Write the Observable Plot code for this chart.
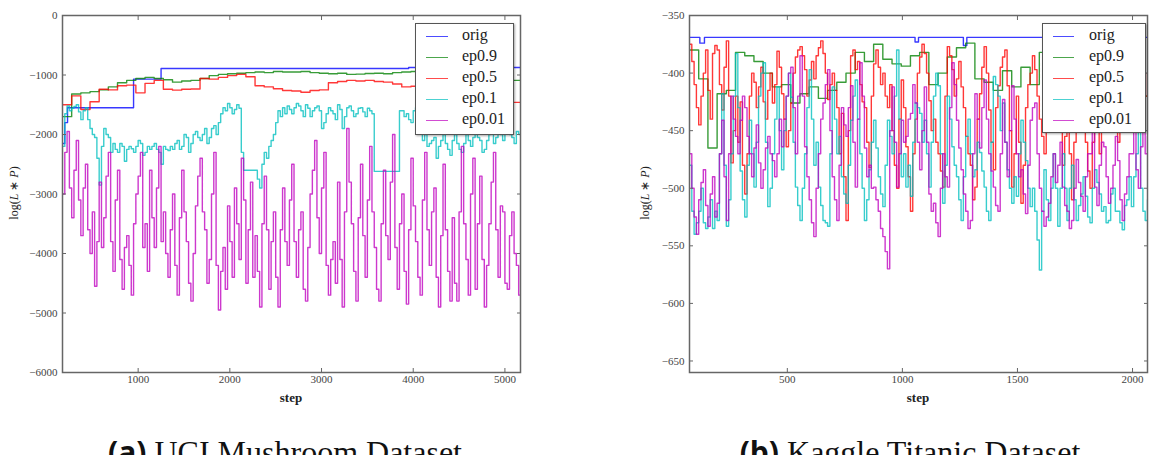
<!DOCTYPE html>
<html><head><meta charset="utf-8">
<script src="https://cdn.jsdelivr.net/npm/d3@7"></script>
<script src="https://cdn.jsdelivr.net/npm/@observablehq/plot@0.6"></script>
<style>
html,body{margin:0;padding:0;background:#fff;overflow:hidden;}
#root{position:relative;width:1162px;height:455px;overflow:hidden;}
.panel{position:absolute;top:0;}
.legend{position:absolute;background:#fff;border:1px solid #555;box-shadow:1px 1px 2px rgba(0,0,0,.35);font-family:"Liberation Serif",serif;font-size:16px;color:#222;}
.legend .sw{position:absolute;height:0;border-top:1.5px solid;}
.legend .lb{position:absolute;line-height:16px;white-space:nowrap;}
.ylab{position:absolute;transform:translate(-50%,-50%) rotate(-90deg);font-family:"Liberation Serif",serif;font-size:12px;color:#222;white-space:nowrap;}
.xlab{position:absolute;transform:translate(-50%,-50%);font-family:"Liberation Serif",serif;font-size:13px;font-weight:bold;color:#222;}
.cap{position:absolute;top:436px;transform:translateX(-50%);font-family:"Liberation Serif",serif;font-size:32px;line-height:32px;white-space:nowrap;color:#111;}
.cap b{font-family:"Open Sans",sans-serif;font-weight:700;font-size:30px;}
</style></head>
<body><div id="root"></div>
<script>
// ---------- data ----------
const seriesNames = ["orig", "ep0.9", "ep0.5", "ep0.1", "ep0.01"];
const seriesColors = ["#0000ff", "#008000", "#ff0000", "#00bfbf", "#bf00bf"];

// (a) UCI Mushroom
const xTicksL = [1000, 2000, 3000, 4000, 5000];
const yTicksL = [0, -1000, -2000, -3000, -4000, -5000, -6000];
const stepsL25 = d3.range(175, 5176, 25);
const stepsL100 = d3.range(175, 5176, 100);
const origStepsL = [175, 200, 230, 950, 1250, 3950, 5175];
const origL = [-2150, -1800, -1550, -1070, -890, -875, -875];
const ep09L = [-1700,-1320,-1300,-1280,-1250,-1200,-1130,-1090,-1060,-1040,-1060,-1080,-1120,-1100,-1090,-1060,-1010,-990,-980,-970,-960,-950,-960,-940,-950,-950,-940,-960,-970,-980,-970,-990,-985,-975,-970,-980,-960,-950,-940,-960,-950,-970,-960,-950,-980,-970,-990,-1000,-1050,-1090,-1100];
const ep05L = [-1500,-1350,-1580,-1450,-1240,-1250,-1180,-1170,-1300,-1140,-1090,-1240,-1255,-1240,-1235,-1060,-1070,-1040,-1010,-990,-1030,-1180,-1200,-1230,-1260,-1270,-1290,-1260,-1250,-1130,-1110,-1090,-1100,-1090,-1110,-1120,-1150,-1200,-1190,-1180,-1170,-1190,-1200,-1210,-1220,-1200,-1230,-1300,-1450,-1460,-1460];
const ep01L = [
  -2200,-1650,-1520,-1600,-1560,-1530,-1500,-1620,-1750,-1600,-1550,-1750,-1900,-2000,-2050,-2400,-2850,-2200,-1900,-2000,
  -2050,-2300,-2150,-2250,-2300,-2150,-2200,-2450,-2250,-2200,-2240,-2300,-2200,-2100,-2150,-2350,-2300,-2200,-2250,-2200,
  -2150,-2250,-2300,-2500,-2200,-2250,-2270,-2200,-2250,-2150,-2100,-2250,-2200,-2000,-2050,-2300,-2150,-2000,-1950,-2050,
  -2100,-2000,-1900,-2150,-2050,-1900,-1850,-2000,-1800,-1650,-1550,-1600,-1480,-1550,-1650,-1580,-1500,-1560,-2300,-2600,
  -2600,-2600,-2600,-2600,-2600,-2750,-2900,-2500,-2300,-2400,-2200,-2100,-2000,-1800,-1600,-1700,-1550,-1650,-1520,-1580,
  -1650,-1550,-1480,-1520,-1600,-1700,-1500,-1560,-1700,-1600,-1550,-1520,-1600,-1900,-1800,-1650,-1550,-1600,-1650,-1750,
  -1500,-1580,-1900,-1700,-1550,-1520,-1600,-1700,-1650,-1560,-1550,-1620,-1700,-1560,-1600,-1650,-2620,-2620,-2620,-2620,
  -2620,-2620,-2620,-2620,-2620,-2620,-2620,-1600,-1600,-1700,-1650,-1750,-1800,-1600,-1550,-1700,-1900,-2100,-2000,-2200,
  -2150,-2100,-2050,-2400,-2200,-2100,-2000,-2150,-2250,-2350,-2100,-2000,-2150,-2250,-2300,-2150,-2000,-2100,-2200,-2050,
  -1950,-2050,-2100,-2300,-2250,-2100,-2000,-1900,-2150,-2050,-1950,-2000,-2100,-1850,-1900,-2000,-2050,-2150,-1950,-2000,
  -2000];
const ep001L = [
  -3000,-2300,-1950,-2900,-3400,-2600,-2100,-3100,-3700,-2900,-2500,-3600,-4000,-3300,-4550,-3800,-2800,-3900,-3400,-2700,
  -2300,-3800,-4300,-3100,-2600,-4100,-4600,-3900,-3700,-4200,-4700,-3500,-3000,-2700,-2300,-3900,-3500,-4300,-2600,-3400,
  -3900,-2900,-2200,-3800,-3300,-4000,-4400,-3600,-3000,-4200,-4700,-3400,-2600,-3300,-3800,-4500,-4800,-4000,-3200,-2700,
  -2400,-3300,-3600,-4500,-4100,-3000,-2300,-4200,-4950,-4300,-3900,-4600,-3200,-3800,-4400,-2900,-3500,-4100,-2400,-3100,
  -4500,-3600,-2800,-4400,-3700,-4300,-4900,-3500,-2700,-3600,-4600,-3800,-3300,-4400,-4900,-3600,-2900,-3800,-4200,-3100,
  -2500,-3800,-4400,-3600,-3300,-4600,-4800,-3900,-3000,-2600,-2100,-3400,-4000,-2900,-2300,-4200,-4700,-4100,-3800,-4500,
  -2800,-4100,-4900,-3300,-1900,-2800,-3500,-4300,-4800,-3400,-2500,-3700,-4400,-3100,-2200,-3300,-3900,-4600,-4800,-3500,
  -2600,-3700,-4100,-2800,-2000,-3900,-4600,-3500,-3000,-4300,-4850,-3600,-2400,-3200,-3800,-4400,-4700,-3100,-2300,-3600,
  -4200,-3300,-2900,-4400,-4900,-3700,-2500,-3600,-4300,-4800,-3400,-4500,-4800,-3300,-2200,-3500,-4100,-4700,-3000,-2400,
  -4600,-3500,-2700,-4100,-4900,-4200,-3500,-2800,-2300,-3600,-4400,-3200,-3300,-4500,-4600,-3700,-3300,-4000,-4200,-4700,
  -3800];

// (b) Kaggle Titanic
const xTicksR = [500, 1000, 1500, 2000];
const yTicksR = [-350, -400, -450, -500, -550, -600, -650];
const stepsR10 = d3.range(75, 2076, 10);
const stepsR40 = d3.range(75, 2076, 40);
const origStepsR = [75, 100, 120, 140, 1040, 1055, 1070, 1250, 1265, 1280, 2075];
const origR = [-369, -369, -374, -369, -369, -373, -369, -369, -376, -369, -369];
const ep09R = [-380,-405,-465,-418,-415,-382,-385,-390,-400,-412,
  -410,-426,-418,-412,-422,-415,-408,-400,-382,-390,
  -375,-388,-392,-394,-385,-382,-410,-400,-386,-378,
  -374,-405,-408,-415,-398,-412,-395,-410,-382,-390,
  -400,-395,-410,-420,-405,-395,-388,-400,-410,-420,-415];
const ep05R = [
  -375,-390,-410,-430,-445,-420,-400,-380,-415,-440,-383,-376,-380,-410,-432,-395,-372,-420,-478,-450,
  -420,-460,-425,-480,-505,-470,-420,-400,-408,-430,-412,-395,-425,-440,-415,-400,-426,-410,-381,-395,
  -418,-440,-464,-450,-426,-400,-386,-380,-377,-385,-397,-420,-406,-390,-405,-385,-378,-372,-383,-400,
  -423,-410,-400,-415,-430,-470,-435,-490,-528,-450,-385,-380,-397,-390,-410,-425,-430,-460,-482,-420,
  -392,-380,-395,-410,-400,-420,-430,-410,-450,-480,-500,-440,-406,-430,-464,-490,-520,-470,-440,-400,
  -386,-375,-383,-400,-424,-450,-440,-460,-470,-485,-499,-420,-377,-385,-397,-420,-405,-390,-412,-430,
  -455,-470,-480,-510,-499,-440,-418,-395,-377,-400,-432,-460,-484,-430,-411,-395,-386,-380,-411,-450,
  -499,-470,-420,-460,-513,-480,-430,-410,-400,-385,-397,-420,-440,-455,-470,-440,-420,-435,-450,-420,
  -400,-440,-480,-455,-430,-470,-510,-460,-420,-405,-395,-430,-460,-485,-500,-460,-430,-450,-470,-430,
  -410,-425,-440,-410,-390,-420,-460,-420,-380,-400,-420,-395,-375,-385,-400,-415,-430,-445,-420,-400,
  -410];
const ep01R = [
  -480,-520,-540,-530,-520,-500,-530,-535,-525,-510,-535,-520,-528,-470,-418,-480,-533,-510,-470,-420,
  -383,-430,-485,-510,-525,-480,-441,-470,-499,-460,-420,-400,-391,-460,-516,-500,-470,-440,-412,-450,
  -484,-450,-420,-400,-421,-460,-499,-515,-528,-500,-470,-430,-397,-440,-480,-460,-499,-515,-528,-530,
  -533,-470,-412,-440,-470,-455,-490,-505,-513,-480,-441,-420,-406,-440,-470,-500,-528,-510,-484,-460,
  -441,-465,-490,-505,-516,-480,-441,-455,-470,-420,-380,-440,-490,-470,-499,-480,-507,-460,-426,-430,
  -435,-460,-441,-470,-499,-460,-420,-400,-411,-470,-513,-480,-420,-440,-464,-480,-490,-510,-528,-490,
  -455,-440,-470,-490,-484,-460,-469,-485,-499,-520,-528,-460,-403,-410,-420,-450,-426,-460,-484,-500,
  -513,-490,-507,-470,-441,-460,-476,-500,-516,-500,-520,-545,-571,-520,-484,-510,-528,-500,-470,-500,
  -533,-500,-470,-500,-528,-500,-480,-510,-528,-515,-505,-490,-507,-525,-530,-500,-484,-495,-505,-520,
  -516,-530,-528,-505,-500,-520,-520,-530,-536,-515,-510,-490,-516,-490,-470,-440,-500,-520,-528,-510,
  -500];
const ep001R = [
  -470,-500,-525,-540,-510,-495,-484,-515,-533,-505,-490,-525,-513,-470,-441,-490,-528,-470,-420,-440,
  -455,-470,-441,-420,-430,-455,-470,-490,-465,-445,-478,-500,-484,-465,-455,-470,-476,-490,-470,-440,
  -464,-440,-420,-400,-395,-430,-470,-420,-385,-420,-464,-490,-510,-530,-542,-500,-470,-440,-426,-410,
  -397,-450,-490,-510,-528,-480,-430,-445,-455,-430,-411,-460,-499,-440,-391,-420,-465,-490,-480,-500,
  -499,-510,-520,-535,-542,-555,-570,-450,-412,-460,-499,-470,-441,-460,-455,-440,-435,-410,-426,-460,
  -484,-450,-412,-460,-505,-520,-513,-530,-542,-500,-470,-490,-499,-430,-391,-410,-441,-465,-484,-505,
  -520,-535,-528,-470,-418,-440,-465,-430,-406,-440,-470,-485,-499,-515,-520,-470,-423,-460,-490,-450,
  -411,-440,-470,-490,-484,-505,-522,-480,-441,-430,-426,-470,-500,-520,-533,-525,-513,-490,-470,-495,
  -480,-460,-499,-515,-520,-535,-528,-500,-475,-495,-507,-520,-490,-470,-470,-450,-499,-515,-480,-460,
  -464,-490,-513,-500,-480,-455,-476,-510,-528,-505,-490,-470,-470,-450,-484,-500,-464,-440,-470,-455,
  -460];

// ---------- build ----------
const rows = (steps, vals) => vals.map((v, i) => ({step: steps[i], value: v}));
const fmt = d3.format("d");

function panel(cfg) {
  const marks = cfg.series.map((s, i) =>
    Plot.line(s, {x: "step", y: "value", stroke: seriesColors[i], strokeOpacity: 0.78,
      strokeWidth: 1.4, curve: "step-after", clip: true}));
  marks.push(Plot.frame({stroke: "#666", strokeWidth: 1.5}));
  marks.push(Plot.axisX({anchor: "bottom", ticks: cfg.xTicks, tickSize: -4, tickPadding: 7, tickFormat: fmt, label: null, stroke: "#666", fill: "#444"}));
  marks.push(Plot.axisX({anchor: "top", ticks: cfg.xTicks, tickSize: -4, tickFormat: () => "", label: null, stroke: "#666"}));
  marks.push(Plot.axisY({anchor: "left", ticks: cfg.yTicks, tickSize: -4, tickPadding: 9, tickFormat: fmt, label: null, stroke: "#666", fill: "#444"}));
  marks.push(Plot.axisY({anchor: "right", ticks: cfg.yTicks, tickSize: -4, tickFormat: () => "", label: null, stroke: "#666"}));
  const svg = Plot.plot({
    width: 581, height: 410,
    marginLeft: cfg.ml, marginRight: cfg.mr, marginTop: 15, marginBottom: 38,
    x: {domain: cfg.xDomain},
    y: {domain: cfg.yDomain},
    style: {fontFamily: "Liberation Serif, serif", fontSize: "11px", background: "transparent"},
    marks
  });
  svg.classList.add("panel");
  svg.style.left = cfg.left + "px";
  return svg;
}

const root = document.getElementById("root");
root.appendChild(panel({
  left: 0, ml: 62, mr: 61, xDomain: [175, 5170], yDomain: [-6000, 0],
  xTicks: xTicksL, yTicks: yTicksL,
  series: [rows(origStepsL, origL), rows(stepsL100, ep09L), rows(stepsL100, ep05L), rows(stepsL25, ep01L), rows(stepsL25, ep001L)]
}));
root.appendChild(panel({
  left: 581, ml: 108, mr: 15, xDomain: [75, 2065], yDomain: [-660, -350],
  xTicks: xTicksR, yTicks: yTicksR,
  series: [rows(origStepsR, origR), rows(stepsR40, ep09R), rows(stepsR10, ep05R), rows(stepsR10, ep01R), rows(stepsR10, ep001R)]
}));

function legend(left, top, w, h, lineX, textX) {
  const box = document.createElement("div");
  box.className = "legend";
  Object.assign(box.style, {left: left + "px", top: top + "px", width: w + "px", height: h + "px"});
  seriesNames.forEach((name, i) => {
    const cy = 12 + 21 * i;
    const sw = document.createElement("div");
    sw.className = "sw";
    Object.assign(sw.style, {left: lineX[0] + "px", width: (lineX[1] - lineX[0]) + "px", top: cy + "px", borderColor: seriesColors[i], opacity: 0.7});
    const lb = document.createElement("div");
    lb.className = "lb";
    lb.textContent = name;
    Object.assign(lb.style, {left: textX + "px", top: (cy - 9) + "px"});
    box.append(sw, lb);
  });
  root.appendChild(box);
}
legend(415, 23, 97, 110, [10, 32], 46);
legend(1042, 23, 102, 108, [10, 31], 46);

function addDiv(cls, html, x, y) {
  const d = document.createElement("div");
  d.className = cls;
  d.innerHTML = html;
  d.style.left = x + "px";
  if (y !== undefined) d.style.top = y + "px";
  root.appendChild(d);
}
addDiv("ylab", "log(<i>L</i> ∗ <i>P</i>)", 14, 193);
addDiv("ylab", "log(<i>L</i> ∗ <i>P</i>)", 645, 193);
addDiv("xlab", "step", 291, 398);
addDiv("xlab", "step", 918, 398);
addDiv("cap", "<b>(a)</b> UCI Mushroom Dataset", 285);
addDiv("cap", "<b>(b)</b> Kaggle Titanic Dataset", 910);
</script>
</body></html>
